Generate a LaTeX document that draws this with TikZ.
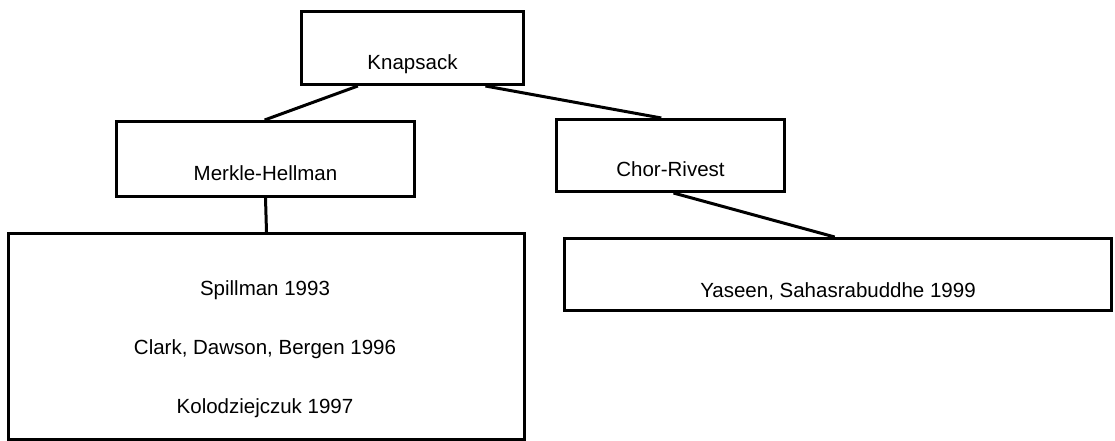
\documentclass[tikz,border=0pt]{standalone}
\usepackage{fontspec}
\setmainfont{Liberation Sans}
\usetikzlibrary{calc}
\tikzset{
  boxnode/.style={draw, line width=3pt, rectangle, inner sep=0pt, anchor=north west, align=center, font=\fontsize{20.5}{24}\selectfont},
  conn/.style={line width=3pt},
  txt/.style={inner sep=0pt, align=center, font=\fontsize{20.5}{59}\selectfont}
}
\begin{document}
\begin{tikzpicture}[x=1pt,y=-1pt]
\useasboundingbox (0,0) rectangle (1115,441);
\node[boxnode, minimum width=222pt, text height=58pt, text depth=15pt] (knap) at (300,10) {Knapsack};
\node[boxnode, minimum width=298pt, text height=59pt, text depth=16pt] (merkle) at (115,120) {Merkle-Hellman};
\node[boxnode, minimum width=228pt, text height=57pt, text depth=15pt] (chor) at (555,118) {Chor-Rivest};
\node[boxnode, minimum width=547pt, text height=59pt, text depth=13pt] (yaseen) at (563,237) {Yaseen, Sahasrabuddhe 1999};
\node[boxnode, minimum width=516pt, minimum height=206pt] (big) at (7,232) {};
\node[txt] (bigtext) at (265,349) {Spillman 1993\\Clark, Dawson, Bergen 1996\\Kolodziejczuk 1997};
\draw[conn] ($(knap.south west)!0.257!(knap.south east)$) -- ($(merkle.north west)!0.497!(merkle.north east)$);
\draw[conn] ($(knap.south west)!0.824!(knap.south east)$) -- ($(chor.north west)!0.46!(chor.north east)$);
\draw[conn] (merkle.south) -- (big.north);
\draw[conn] ($(chor.south west)!0.513!(chor.south east)$) -- ($(yaseen.north west)!0.494!(yaseen.north east)$);
\end{tikzpicture}
\end{document}
